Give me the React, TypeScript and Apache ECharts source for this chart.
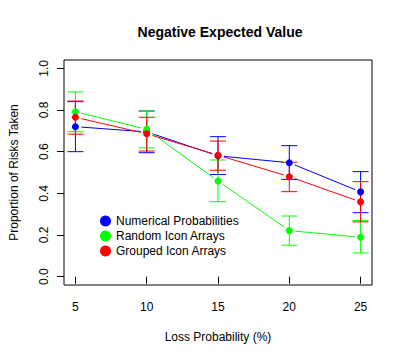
import React, { useEffect, useRef } from "react";
import * as echarts from "echarts";

const xs = [5, 10, 15, 20, 25];
const yTicks = [0, 0.2, 0.4, 0.6, 0.8, 1.0];

const numMean = [0.72, 0.695, 0.58, 0.547, 0.407];
const numLo = [0.6, 0.595, 0.49, 0.467, 0.307];
const numHi = [0.84, 0.795, 0.672, 0.629, 0.504];

const randMean = [0.792, 0.707, 0.459, 0.221, 0.189];
const randLo = [0.696, 0.618, 0.36, 0.151, 0.114];
const randHi = [0.887, 0.795, 0.56, 0.291, 0.269];

const grpMean = [0.765, 0.686, 0.583, 0.48, 0.359];
const grpLo = [0.684, 0.603, 0.511, 0.408, 0.263];
const grpHi = [0.843, 0.765, 0.651, 0.549, 0.456];

const names = ["Numerical Probabilities", "Random Icon Arrays", "Grouped Icon Arrays"];
const colors = ["#0000FF", "#00FF00", "#FF0000"];
const means = [numMean, randMean, grpMean];
const los = [numLo, randLo, grpLo];
const his = [numHi, randHi, grpHi];

const FONT = "Liberation Sans, Arial, Helvetica, sans-serif";

export default function App() {
  const ref = useRef<HTMLDivElement>(null);
  useEffect(() => {
    document.body.style.margin = "0";
    const chart = echarts.init(ref.current!, null, { renderer: "svg" });
    const series: any[] = [];
    means.forEach((m, si) => {
      const color = colors[si];
      // type="b" line segments with gaps around points
      const segs = xs.slice(0, -1).map((x, i) => [x, m[i], xs[i + 1], m[i + 1]]);
      series.push({
        type: "custom",
        silent: true,
        data: segs,
        renderItem: (params: any, api: any) => {
          const p1 = api.coord([api.value(0), api.value(1)]);
          const p2 = api.coord([api.value(2), api.value(3)]);
          const dx = p2[0] - p1[0];
          const dy = p2[1] - p1[1];
          const len = Math.sqrt(dx * dx + dy * dy);
          const g = 6;
          const ux = dx / len, uy = dy / len;
          return {
            type: "line",
            shape: { x1: p1[0] + ux * g, y1: p1[1] + uy * g, x2: p2[0] - ux * g, y2: p2[1] - uy * g },
            style: { stroke: color, lineWidth: 1 },
          };
        },
        z: 2,
      });
      series.push({
        type: "custom",
        silent: true,
        data: xs.map((x, i) => [x, los[si][i], his[si][i]]),
        renderItem: (params: any, api: any) => {
          const x = api.value(0);
          const lo = api.coord([x, api.value(1)]);
          const hi = api.coord([x, api.value(2)]);
          const hw = 8;
          const st = { stroke: color, lineWidth: 1 };
          return {
            type: "group",
            children: [
              { type: "line", shape: { x1: lo[0], y1: lo[1], x2: hi[0], y2: hi[1] }, style: st },
              { type: "line", shape: { x1: lo[0] - hw, y1: lo[1], x2: lo[0] + hw, y2: lo[1] }, style: st },
              { type: "line", shape: { x1: hi[0] - hw, y1: hi[1], x2: hi[0] + hw, y2: hi[1] }, style: st },
            ],
          };
        },
        z: 3,
      });
      series.push({
        type: "scatter",
        name: names[si],
        data: xs.map((x, i) => [x, m[i]]),
        symbol: "circle",
        symbolSize: 7,
        itemStyle: { color, opacity: 1 },
        z: 4,
      });
    });

    chart.setOption({
      animation: false,
      textStyle: { fontFamily: FONT },
      title: {
        text: "Negative Expected Value",
        left: 215,
        textAlign: "center",
        top: 20,
        textStyle: { fontFamily: FONT, fontSize: 14, fontWeight: "bold", color: "#000" },
      },
      grid: {
        left: 59,
        top: 60,
        width: 313,
        height: 225,
        show: true,
        borderColor: "#000",
        borderWidth: 1,
        backgroundColor: "transparent",
      },
      legend: {
        orient: "vertical",
        left: 95,
        top: 210,
        icon: "circle",
        itemWidth: 11,
        itemHeight: 11,
        itemGap: 3,
        textStyle: { fontFamily: FONT, fontSize: 12, color: "#000" },
        data: names,
      },
      xAxis: {
        type: "value",
        min: 4.2,
        max: 25.8,
        name: "Loss Probability (%)",
        nameLocation: "middle",
        nameGap: 46,
        nameTextStyle: { fontFamily: FONT, fontSize: 12, color: "#000" },
        axisLine: { show: false },
        axisTick: { show: true, inside: false, length: 7, customValues: xs, lineStyle: { color: "#000" } },
        axisLabel: { customValues: xs, margin: 16, fontFamily: FONT, fontSize: 12, color: "#000" },
        splitLine: { show: false },
      },
      yAxis: {
        type: "value",
        min: -0.04,
        max: 1.04,
        name: "Proportion of Risks Taken",
        nameLocation: "middle",
        nameGap: 44,
        nameTextStyle: { fontFamily: FONT, fontSize: 12, color: "#000" },
        axisLine: { show: false },
        axisTick: { show: true, inside: false, length: 7, customValues: yTicks, lineStyle: { color: "#000" } },
        axisLabel: {
          customValues: yTicks,
          rotate: 90,
          margin: 14,
          fontFamily: FONT,
          fontSize: 12,
          color: "#000",
          formatter: (v: number) => v.toFixed(1),
        },
        splitLine: { show: false },
      },
      series,
    });
    return () => chart.dispose();
  }, []);
  return <div ref={ref} style={{ width: 404, height: 359 }} />;
}
